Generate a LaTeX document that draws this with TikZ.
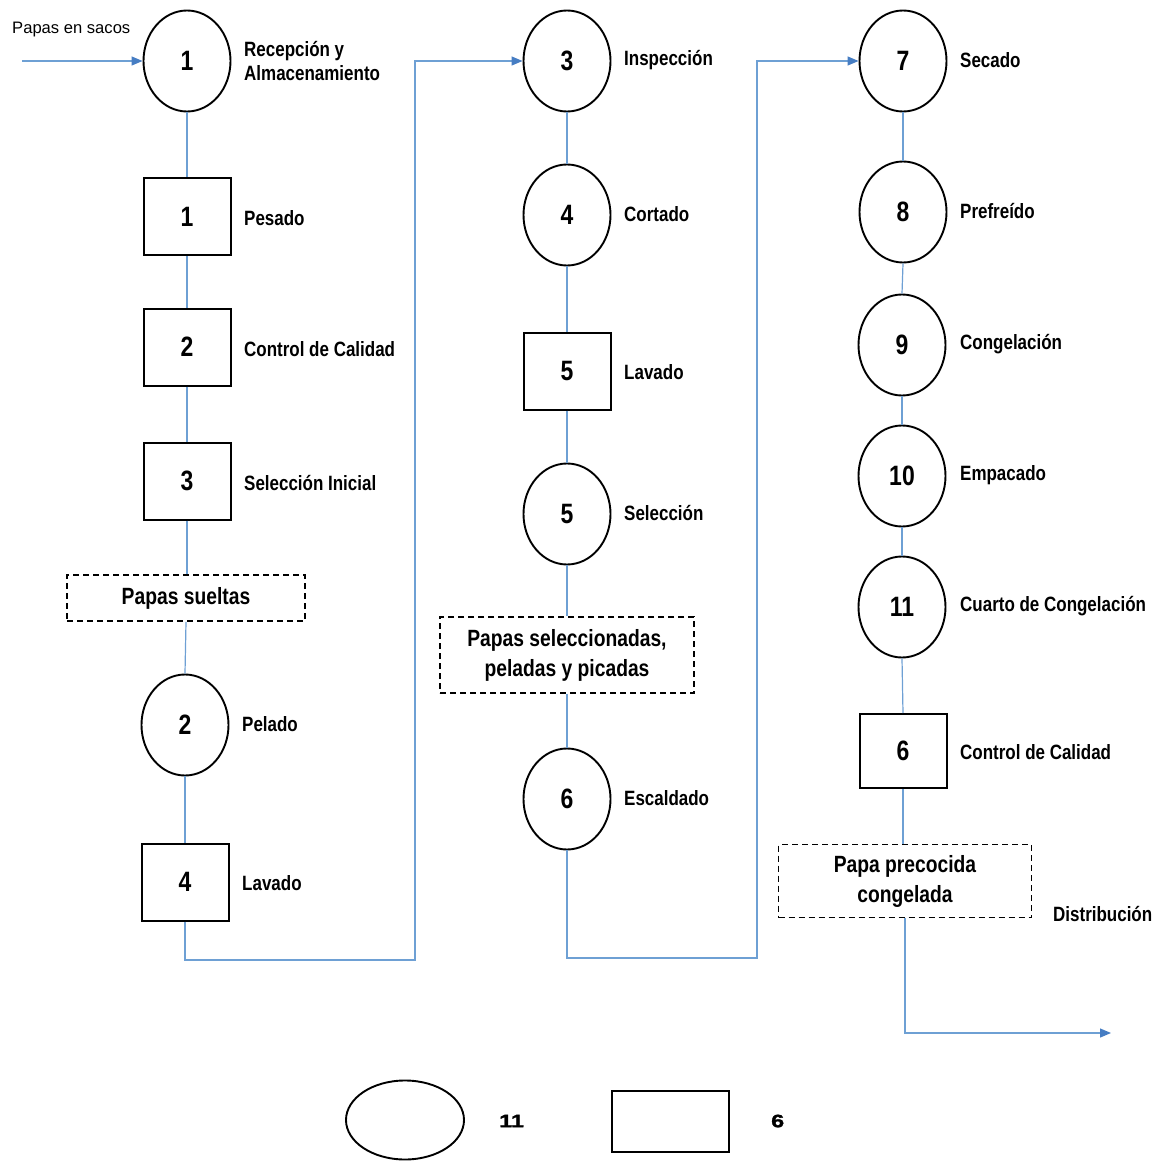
\documentclass[tikz,border=0pt]{standalone}
\usepackage{fontspec}
\setmainfont{Liberation Sans}
\newfontfamily\nar[FakeStretch=0.82]{Liberation Sans}
\newfontfamily\wide[FakeStretch=1.3,FakeBold=1.5]{Liberation Sans}
\usetikzlibrary{shapes.geometric,arrows.meta}
\definecolor{flowc}{RGB}{110,160,212}
\definecolor{tipc}{RGB}{70,125,195}
\begin{document}
\begin{tikzpicture}[x=1pt,y=-1pt,
  opc/.style={ellipse,draw,line width=1.9pt,minimum width=87pt,minimum height=101pt,inner sep=0pt,
    font=\nar\bfseries\fontsize{28}{30}\selectfont},
  insp/.style={rectangle,draw,line width=2pt,minimum width=87pt,minimum height=77pt,inner sep=0pt,
    font=\nar\bfseries\fontsize{28}{30}\selectfont},
  prod/.style={rectangle,draw,dashed,dash pattern=on 6pt off 4pt,line width=1.9pt,inner sep=0pt,
    align=center,font=\nar\bfseries\fontsize{23.5}{30}\selectfont},
  lbl/.style={anchor=west,inner sep=0pt,align=left,font=\nar\bfseries\fontsize{20.7}{24}\selectfont},
  flow/.style={draw=flowc,line width=1.2pt},
  arr/.style={flow,-{Triangle[length=11pt,width=9pt,color=tipc]}}]
\useasboundingbox (0,0) rectangle (1173,1161);

% column 1
\node[opc] (c1) at (187,61) {1};
\node[insp] (b1) at (187,217) {1};
\node[insp] (b2) at (187,347) {2};
\node[insp] (b3) at (187,481) {3};
\node[prod,minimum width=238pt,minimum height=46pt] (p1) at (186,598) {Papas sueltas};
\node[opc] (c2) at (185,725) {2};
\node[insp] (b4) at (185,882) {4};

\node[lbl] (l1) at (244,61) {Recepción y\\Almacenamiento};
\node[lbl] (lb1) at (244,218) {Pesado};
\node[lbl] (lb2) at (244,349) {Control de Calidad};
\node[lbl] (lb3) at (244,483) {Selección Inicial};
\node[lbl] (l2) at (242,724) {Pelado};
\node[lbl] (lb4) at (242,883) {Lavado};

\node[anchor=west,inner sep=0pt,font=\fontsize{16.6}{18}\selectfont] (inl) at (12,30) {Papas en sacos};
\coordinate (in) at (22,61);

% column 2
\node[opc] (c3) at (567,61) {3};
\node[opc] (c4) at (567,215) {4};
\node[insp] (b5) at (567,371) {5};
\node[opc] (c5) at (567,514) {5};
\node[prod,minimum width=254pt,minimum height=76pt] (p2) at (567,655) {Papas seleccionadas,\\peladas y picadas};
\node[opc] (c6) at (567,799) {6};

\node[lbl] (l3) at (624,60) {Inspección};
\node[lbl] (l4) at (624,214) {Cortado};
\node[lbl] (lb5) at (624,372) {Lavado};
\node[lbl] (l5) at (624,513) {Selección};
\node[lbl] (l6) at (624,798) {Escaldado};

% column 3
\node[opc] (c7) at (903,61) {7};
\node[opc] (c8) at (903,212) {8};
\node[opc] (c9) at (902,345) {9};
\node[opc] (c10) at (902,476) {10};
\node[opc] (c11) at (902,607) {11};
\node[insp,minimum height=74pt] (b6) at (903,751) {6};
\node[prod,minimum width=253pt,minimum height=73pt] (p3) at (905,881) {Papa precocida\\congelada};

\node[lbl] (l7) at (960,60) {Secado};
\node[lbl] (l8) at (960,211) {Prefreído};
\node[lbl] (l9) at (960,344) {Congelación};
\node[lbl] (l10) at (960,475) {Empacado};
\node[lbl] (l11) at (960,606) {Cuarto de Congelación};
\node[lbl] (lb6) at (960,752) {Control de Calidad};
\node[lbl] (dist) at (1053,914) {Distribución};

% connectors
\draw[arr] (in) -- (c1.west);
\draw[flow] (c1.south) -- (b1.north);
\draw[flow] (b1.south) -- (b2.north);
\draw[flow] (b2.south) -- (b3.north);
\draw[flow] (b3.south) -- (p1.north -| b3.south);
\draw[flow] (p1.south) -- (c2.north);
\draw[flow] (c2.south) -- (b4.south |- c2.south) -- (b4.north);
\coordinate (k1) at (415,960);
\coordinate (k2) at (415,61);
\draw[arr] (b4.south) |- (k1) -- (k2) -- (c3.west);

\draw[flow] (c3.south) -- (c4.north);
\draw[flow] (c4.south) -- (b5.north);
\draw[flow] (b5.south) -- (c5.north);
\draw[flow] (c5.south) -- (p2.north);
\draw[flow] (p2.south) -- (c6.north);
\coordinate (k3) at (757,958);
\coordinate (k4) at (757,61);
\draw[arr] (c6.south) |- (k3) -- (k4) -- (c7.west);

\draw[flow] (c7.south) -- (c8.north);
\draw[flow] (c8.south) -- (c9.north);
\draw[flow] (c9.south) -- (c10.north);
\draw[flow] (c10.south) -- (c11.north);
\draw[flow] (c11.south) -- (b6.north);
\draw[flow] (b6.south) -- (p3.north -| b6.south);
\coordinate (out) at (1111,1033);
\draw[arr] (p3.south) |- (out);

% legend
\node[ellipse,draw,line width=1.9pt,minimum width=118pt,minimum height=79pt,inner sep=0pt] (leg1) at (405,1120) {};
\node[anchor=west,inner sep=0pt,font=\wide\bfseries\fontsize{18}{20}\selectfont] (leg1t) at (499,1121) {11};
\node[rectangle,draw,line width=2pt,minimum width=117pt,minimum height=61pt,inner sep=0pt] (leg2) at (670,1121) {};
\node[anchor=west,inner sep=0pt,font=\wide\bfseries\fontsize{18}{20}\selectfont] (leg2t) at (771,1121) {6};
\end{tikzpicture}
\end{document}
